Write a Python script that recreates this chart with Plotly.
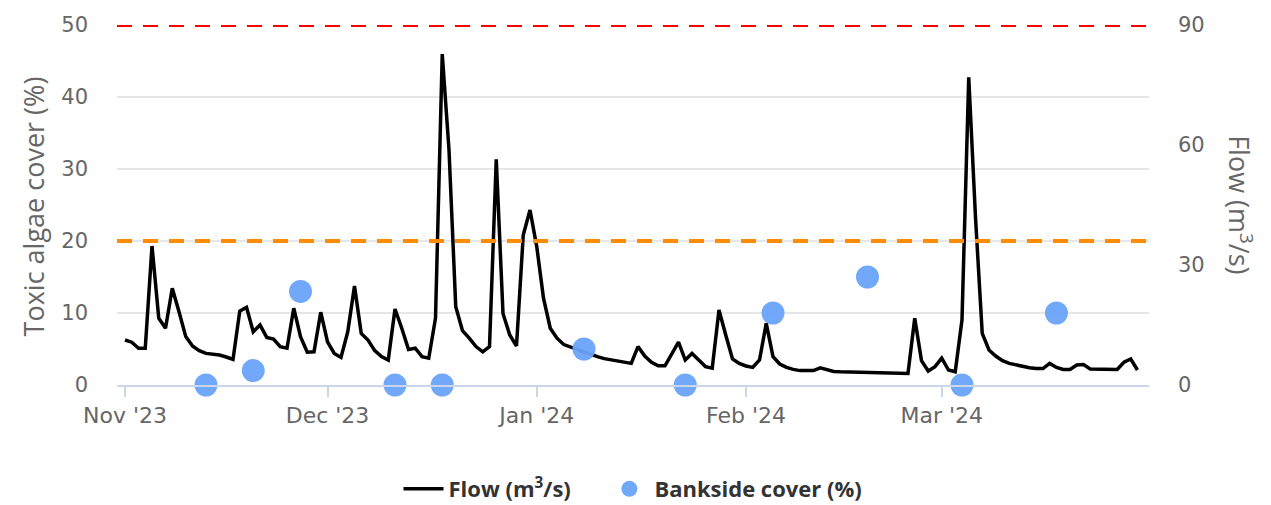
import pandas as pd
import plotly.graph_objects as go

# ---- data ----
flow_start = "2023-11-01"
flow_values = [
    11.25, 10.7, 9.2, 9.2, 34.75, 16.7, 14.2, 24.2, 18.3, 12.1,
    9.75, 8.6, 7.9, 7.75, 7.5, 7.0, 6.4, 18.5, 19.4, 13.3,
    15.0, 11.9, 11.5, 9.6, 9.2, 19.2, 12.1, 8.2, 8.3, 18.2,
    10.8, 7.9, 6.9, 13.3, 24.75, 12.9, 11.25, 8.6, 7.1, 6.25,
    19.0, 14.2, 8.9, 9.2, 7.1, 6.7, 16.7, 82.75, 58.75, 19.6,
    13.6, 11.7, 9.6, 8.3, 9.6, 56.4, 17.9, 12.5, 9.75, 37.5,
    43.75, 34.6, 21.7, 14.2, 11.7, 10.1, 9.6, 8.9, 8.25, 7.6,
    7.1, 6.6, 6.25, 5.9, 5.6, 5.4, 9.6, 7.25, 5.7, 4.8,
    4.8, 7.75, 10.7, 6.25, 7.9, 6.25, 4.6, 4.2, 18.75, 12.5,
    6.5, 5.4, 4.75, 4.4, 6.25, 15.4, 7.1, 5.25, 4.4, 3.9,
    3.6, 3.6, 3.6, 4.3, 3.75, 3.4, 3.3, 3.25, 3.2, 3.2,
    3.25, 3.2, 3.1, 3.0, 2.95, 2.9, 2.9, 16.7, 6.1, 3.5,
    4.6, 6.7, 3.75, 3.3, 16.25, 76.9, 42.0, 12.9, 8.75, 7.25,
    6.1, 5.4, 5.0, 4.7, 4.3, 4.1, 4.1, 5.4, 4.4, 3.9,
    3.9, 5.0, 5.1, 4.0, 4.0, 4.1, 4.1, 3.9, 5.7, 6.5,
    3.75,
]
flow_dates = pd.date_range(flow_start, periods=len(flow_values), freq="D")

bank_dates = ["2023-11-13", "2023-11-20", "2023-11-27", "2023-12-11", "2023-12-18",
              "2024-01-08", "2024-01-23", "2024-02-05", "2024-02-19", "2024-03-04",
              "2024-03-18"]
bank_values = [0, 2, 13, 0, 0, 5, 0, 10, 15, 0, 10]

month_ticks = ["2023-11-01", "2023-12-01", "2024-01-01", "2024-02-01", "2024-03-01"]
month_labels = ["Nov '23", "Dec '23", "Jan '24", "Feb '24", "Mar '24"]

left_ticks = [0, 10, 20, 30, 40, 50]
right_ticks = [0, 30, 60, 90]
red_threshold = 50
orange_threshold = 20

TICKFONT = "DejaVu Sans"
TITLEFONT = "Open Sans"
GREY = "#666666"
PAD = "\u00a0" * 5

fig = go.Figure()

fig.add_trace(go.Scatter(
    x=flow_dates, y=flow_values, name="Flow (m<sup>3</sup>/s)" + PAD,
    mode="lines", line=dict(color="#000000", width=3.5), yaxis="y",
    cliponaxis=False,
))
fig.add_trace(go.Scatter(
    x=bank_dates, y=bank_values, name="Bankside cover (%)",
    mode="markers", marker=dict(color="#6aa3fa", size=23, opacity=0.95,
                                line=dict(width=0)),
    yaxis="y2", cliponaxis=False,
))

x_range = ["2023-10-30 19:30", "2024-03-31 17:00"]

# page body has an 8px margin, so the figure is drawn 8px in from the window edge
fig.update_layout(
    width=1263, height=497,
    margin=dict(l=109, r=122, t=17, b=120, autoexpand=False),
    paper_bgcolor="white", plot_bgcolor="white",
    font=dict(family=TICKFONT, color=GREY, size=21),
    showlegend=True,
    legend=dict(orientation="h", x=0.5, xanchor="center", y=-0.289, yanchor="middle",
                font=dict(family=TITLEFONT, size=22, color="#333333", weight="bold"),
                traceorder="normal", itemsizing="trace", itemwidth=40),
    xaxis=dict(
        type="date", range=x_range, automargin=False,
        tickvals=month_ticks, ticktext=month_labels,
        showgrid=False, showline=True, linecolor="#ccd6eb", linewidth=1.5,
        ticks="outside", ticklen=10, tickcolor="#ccd6eb", tickwidth=1.5,
        tickfont=dict(family=TICKFONT, size=22, color=GREY),
        zeroline=False,
    ),
    yaxis=dict(
        range=[0, 90], tickvals=right_ticks, side="right", automargin=False,
        showgrid=False, zeroline=False, showline=False,
        tickfont=dict(family=TICKFONT, size=21, color=GREY),
        ticklabelstandoff=28,
    ),
    yaxis2=dict(
        range=[0, 50], tickvals=left_ticks, side="left", overlaying="y",
        automargin=False,
        showgrid=True, gridcolor="#e6e6e6", gridwidth=1.5, zeroline=False,
        showline=False,
        tickfont=dict(family=TICKFONT, size=21, color=GREY),
        ticklabelstandoff=28,
    ),
    shapes=[
        dict(type="line", xref="paper", x0=0, x1=1, yref="y2",
             y0=red_threshold, y1=red_threshold,
             line=dict(color="#ff0000", width=4, dash="15px,11px"), layer="above"),
        dict(type="line", xref="paper", x0=0, x1=1, yref="y2",
             y0=orange_threshold, y1=orange_threshold,
             line=dict(color="#ff8c00", width=4, dash="15px,11px"), layer="above"),
    ],
    annotations=[
        dict(text="Toxic algae cover (%)", xref="paper", yref="paper",
             x=-0.0814, y=0.496, xanchor="center", yanchor="middle",
             textangle=-90, showarrow=False,
             font=dict(family=TITLEFONT, size=27, color=GREY)),
        dict(text="Flow (m<sup>3</sup>/s)", xref="paper", yref="paper",
             x=1.089, y=0.5, xanchor="center", yanchor="middle",
             textangle=90, showarrow=False,
             font=dict(family=TITLEFONT, size=27, color=GREY)),
    ],
)

fig.write_html("out.html")
